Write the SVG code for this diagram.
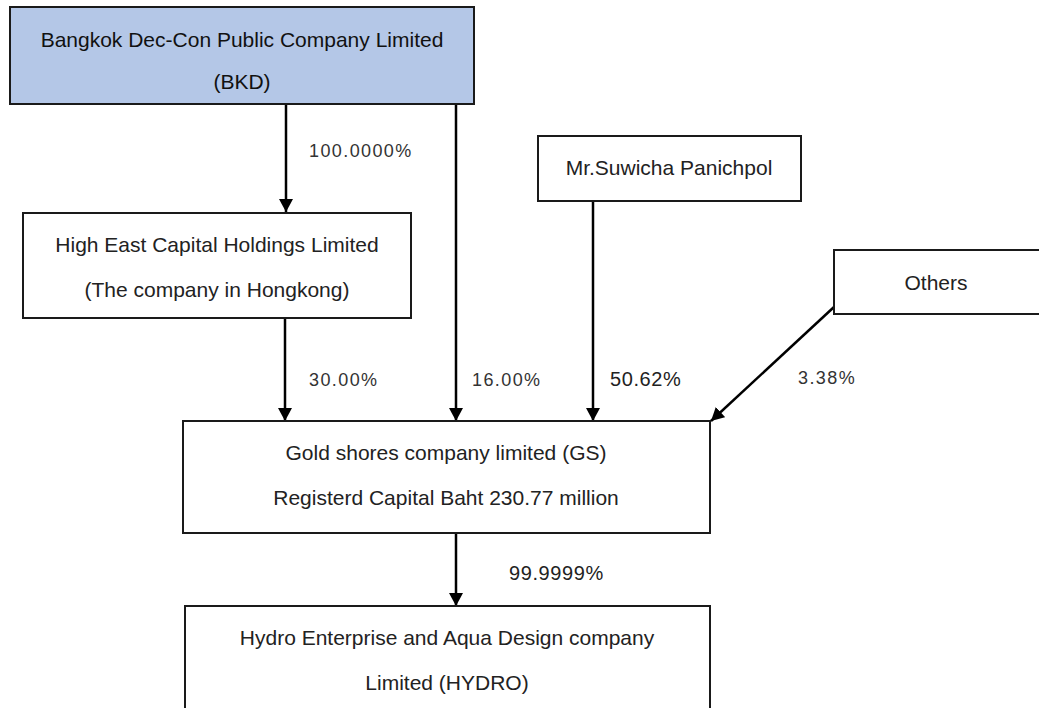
<svg xmlns="http://www.w3.org/2000/svg" width="1039" height="708" viewBox="0 0 1039 708">
<style>
.box{fill:#ffffff;stroke:#1a1a1a;stroke-width:2}
.bkd{fill:#b4c7e7;stroke:#1a1a1a;stroke-width:2}
.t{font-family:"Liberation Sans",Arial,sans-serif;font-size:21px;fill:#222;text-anchor:middle}
.tb{font-family:"Liberation Sans",Arial,sans-serif;font-size:21px;fill:#111;text-anchor:middle}
.p{font-family:"Liberation Sans",Arial,sans-serif;font-size:18px;fill:#333;letter-spacing:1.4px}
.p2{font-family:"Liberation Sans",Arial,sans-serif;font-size:20px;fill:#222;letter-spacing:0.6px}
.c{stroke:#000;stroke-width:2.5;fill:none;marker-end:url(#ah)}
</style>
<defs>
<marker id="ah" markerUnits="userSpaceOnUse" markerWidth="14" markerHeight="14" refX="13" refY="7" orient="auto">
<path d="M0,0 L13,7 L0,14 z" fill="#000"/>
</marker>
</defs>
<rect width="1039" height="708" fill="#ffffff"/>
<g id="connectors">
<line class="c" x1="286" y1="105" x2="286" y2="212"/>
<line class="c" x1="456" y1="105" x2="456" y2="421"/>
<line class="c" x1="285" y1="318" x2="285" y2="421"/>
<line class="c" x1="593" y1="201" x2="593" y2="421"/>
<line class="c" x1="834" y1="307" x2="711" y2="421"/>
<line class="c" x1="456" y1="533" x2="456" y2="606"/>
<text class="p" x="309" y="157">100.0000%</text>
<text class="p" x="309" y="386">30.00%</text>
<text class="p" x="472" y="386">16.00%</text>
<text class="p2" x="610" y="386">50.62%</text>
<text class="p" x="798" y="384">3.38%</text>
<text class="p2" x="509" y="580">99.9999%</text>
</g>
<g id="bkd">
<rect class="bkd" x="10" y="7" width="464" height="97"/>
<text class="tb" x="242" y="47">Bangkok Dec-Con Public Company Limited</text>
<text class="tb" x="242" y="89">(BKD)</text>
</g>
<g id="higheast">
<rect class="box" x="23" y="213" width="388" height="105"/>
<text class="t" x="217" y="252">High East Capital Holdings Limited</text>
<text class="t" x="217" y="297">(The company in Hongkong)</text>
</g>
<g id="suwicha">
<rect class="box" x="538" y="136" width="263" height="65"/>
<text class="t" x="669" y="175">Mr.Suwicha Panichpol</text>
</g>
<g id="others">
<rect class="box" x="834" y="250" width="215" height="64"/>
<text class="t" x="936" y="290">Others</text>
</g>
<g id="gs">
<rect class="box" x="183" y="421" width="527" height="112"/>
<text class="t" x="446" y="460">Gold shores company limited (GS)</text>
<text class="t" x="446" y="505">Registerd Capital Baht 230.77 million</text>
</g>
<g id="hydro">
<rect class="box" x="185" y="606" width="525" height="110"/>
<text class="t" x="447" y="645">Hydro Enterprise and Aqua Design company</text>
<text class="t" x="447" y="690">Limited (HYDRO)</text>
</g>
</svg>
